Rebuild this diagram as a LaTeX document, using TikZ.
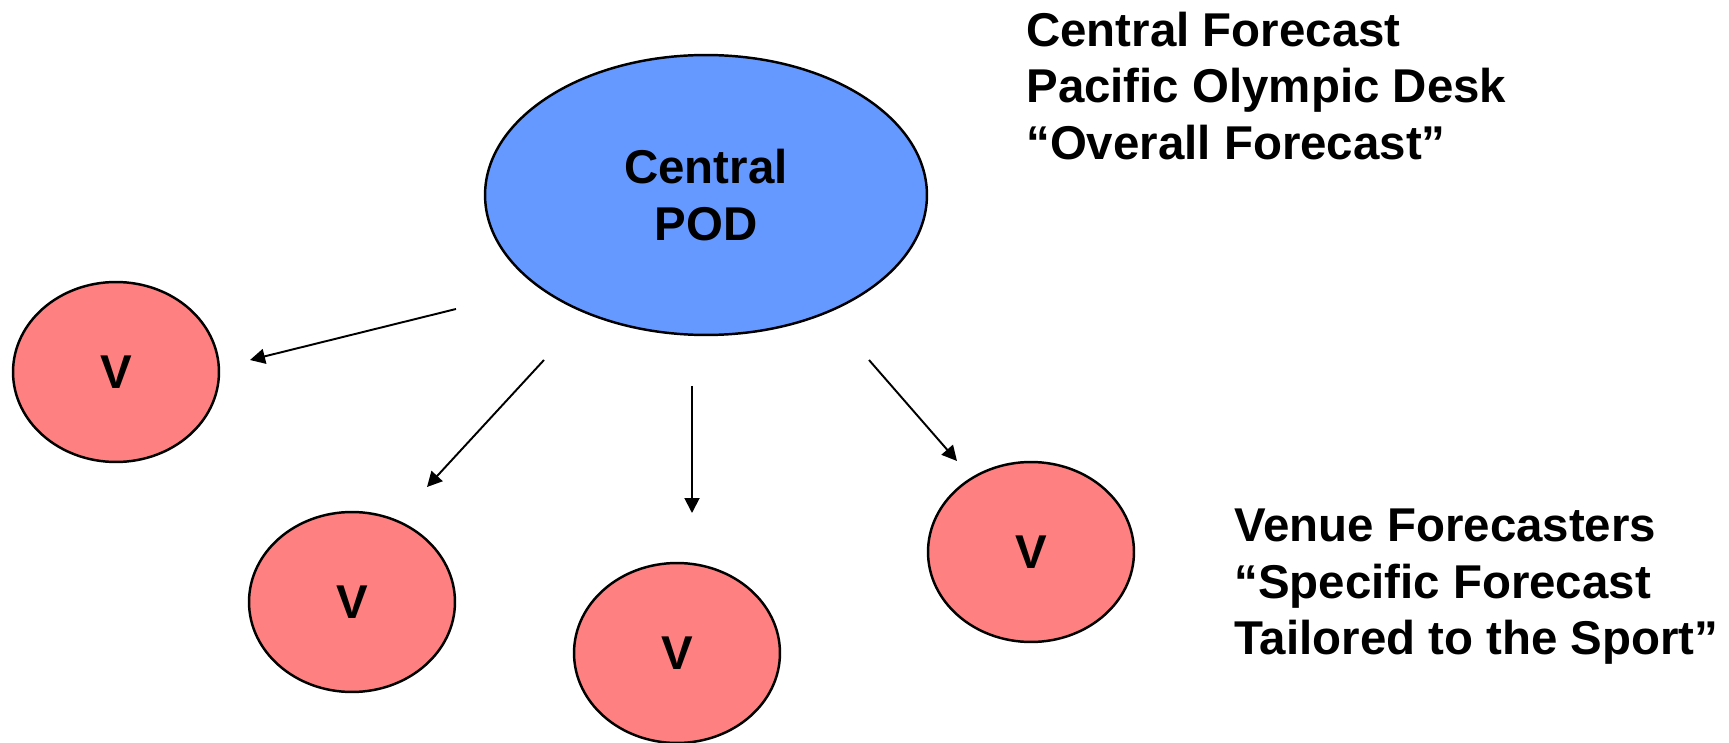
\documentclass[tikz,border=0pt]{standalone}
\usepackage{fontspec}
\setmainfont{Liberation Sans}
\usetikzlibrary{shapes.geometric,arrows.meta}
\definecolor{podblue}{RGB}{102,153,255}
\definecolor{venuered}{RGB}{255,128,128}

\begin{document}
\begin{tikzpicture}[x=0.02cm,y=-0.02cm,
  bigfont/.style={font=\bfseries\fontsize{27}{32}\selectfont},
  podnode/.style={ellipse,draw,line width=1.4pt,fill=podblue,minimum width=8.84cm,minimum height=5.6cm,align=center,bigfont},
  venue/.style={ellipse,draw,line width=1.4pt,fill=venuered,minimum width=4.12cm,minimum height=3.6cm,bigfont},
  link/.style={line width=1.1pt,-{Triangle[length=0.3cm,width=0.3cm]}},
  note/.style={anchor=north west,inner sep=0pt,align=left,bigfont}]
\useasboundingbox (0,0) rectangle (1729,743);
% -- define nodes
\node[podnode] (pod) at (706,195) {Central\\POD};
\node[venue] (v1) at (116,372) {V};
\node[venue] (v2) at (352,602) {V};
\node[venue] (v3) at (677,653) {V};
\node[venue] (v4) at (1031,552) {V};
% -- arrow ends
\coordinate (a1s) at (456,309);
\coordinate (a1e) at (250,360);
\coordinate (a2s) at (544,360);
\coordinate (a2e) at (427,487);
\coordinate (a3s) at (692,386);
\coordinate (a3e) at (692,513);
\coordinate (a4s) at (869,360);
\coordinate (a4e) at (957,461);
% -- draw arrows
\draw [link] (a1s) -- (a1e);
\draw [link] (a2s) -- (a2e);
\draw [link] (a3s) -- (a3e);
\draw [link] (a4s) -- (a4e);
% -- draw notes
\node[note] (top) at (1026,12) {Central Forecast\\Pacific Olympic Desk\\``Overall Forecast''};
\node[note] (bottom) at (1234,509) {Venue Forecasters\\``Specific Forecast\\Tailored to the Sport''};
\end{tikzpicture}
\end{document}
